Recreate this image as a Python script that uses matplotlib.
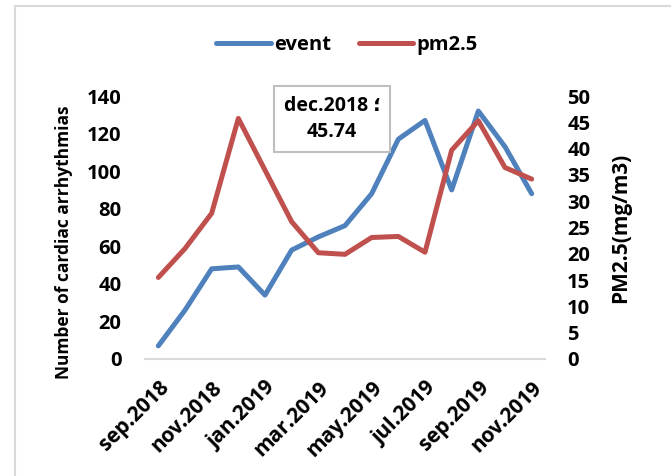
import matplotlib.pyplot as plt
from matplotlib.patches import Rectangle

plt.rcParams['font.family'] = ['Open Sans', 'DejaVu Sans']
plt.rcParams['font.weight'] = 'bold'

months = ['sep.2018', 'oct.2018', 'nov.2018', 'dec.2018', 'jan.2019', 'feb.2019',
          'mar.2019', 'apr.2019', 'may.2019', 'jun.2019', 'jul.2019', 'aug.2019',
          'sep.2019', 'oct.2019', 'nov.2019']
event = [7, 26, 48, 49, 34, 58, 65, 71, 88, 117, 127, 90, 132, 113, 88]
pm25 = [15.5, 21.0, 27.7, 45.74, 35.9, 26.1, 20.2, 19.9, 23.1, 23.3, 20.3, 39.7, 45.3, 36.4, 34.2]
left_ticks = [0, 20, 40, 60, 80, 100, 120, 140]
right_ticks = [0, 5, 10, 15, 20, 25, 30, 35, 40, 45, 50]

blue = '#4F81BD'
red = '#C0504D'

fig = plt.figure(figsize=(6.71, 4.76), dpi=100)
fig.patches.append(Rectangle((15 / 671, -0.1), 1.2, 1.1 - 6 / 476, transform=fig.transFigure,
                             fill=False, edgecolor='#D9D9D9', linewidth=1.5))

ax = fig.add_axes([145 / 671, (476 - 359) / 476, 400 / 671, 263 / 476])
ax2 = ax.twinx()

x = range(len(months))
l1, = ax.plot(x, event, color=blue, linewidth=3.6, solid_capstyle='round', label='event', zorder=3)
l2, = ax2.plot(x, pm25, color=red, linewidth=3.6, solid_capstyle='round', label='pm2.5', zorder=3)

ax.set_xlim(-0.5, len(months) - 0.5)
ax.set_ylim(0, 140)
ax2.set_ylim(0, 50)
ax.set_yticks(left_ticks)
ax2.set_yticks(right_ticks)
ax.set_xticks(list(x)[::2])
ax.set_xticklabels(months[::2], rotation=45, ha='right', rotation_mode='anchor')

for a in (ax, ax2):
    for s in a.spines.values():
        s.set_visible(False)
    a.tick_params(length=0, labelsize=14.5)
ax.spines['bottom'].set_visible(True)
ax.spines['bottom'].set_color('#D9D9D9')
ax.spines['bottom'].set_linewidth(1.5)
ax.tick_params(axis='x', pad=13, labelsize=15)
ax.tick_params(axis='y', pad=17)
ax2.tick_params(axis='y', pad=16)

ax.set_ylabel('Number of cardiac arrhythmias', fontsize=12.5, fontweight='bold')
ax.yaxis.set_label_coords(-0.18, 0.445)
ax2.set_ylabel('PM2.5(mg/m3)', fontsize=15, fontweight='bold', labelpad=14)

# data label for the december peak
ax2.annotate('{} ؛\n{:.2f}'.format(months[3], pm25[3]), xy=(3, pm25[3]),
             xytext=(332 / 671, (476 - 119) / 476), textcoords='figure fraction',
             ha='center', va='center', fontsize=14, fontweight='bold', linespacing=1.45,
             bbox=dict(boxstyle='square,pad=0.48', fc='white', ec='#BFBFBF', lw=1.5))

fig.legend(handles=[l1, l2], loc='center', bbox_to_anchor=(347 / 671, (476 - 45) / 476),
           ncol=2, frameon=False, fontsize=14.5, handlelength=2.7, handletextpad=0.15,
           columnspacing=1.4)

fig.savefig('out.png', dpi=100)
